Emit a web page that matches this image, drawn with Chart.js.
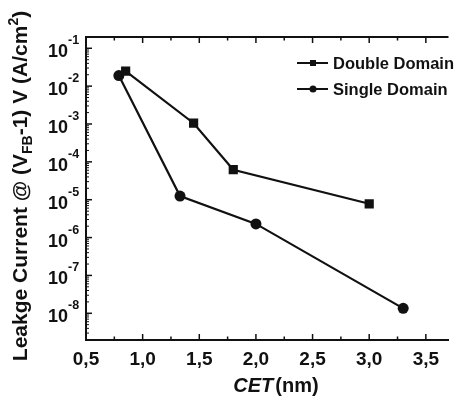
<!DOCTYPE html>
<html>
<head>
<meta charset="utf-8">
<script src="https://cdn.jsdelivr.net/npm/chart.js@4.4.0/dist/chart.umd.min.js"></script>
<style>
  body { margin: 0; background: #fff; }
</style>
</head>
<body>
<canvas id="leakChart" width="455" height="401"></canvas>
<script>
// Data
const ddX = [0.85, 1.45, 1.8, 3.0];            // Double Domain CET (nm)
const ddY = [2.5e-2, 1.05e-3, 6.2e-5, 7.8e-6];  // leakage (A/cm2)
const sdX = [0.79, 1.33, 2.0, 3.3];             // Single Domain CET (nm)
const sdY = [1.9e-2, 1.25e-5, 2.3e-6, 1.35e-8];
const xTicks = [0.5, 1.0, 1.5, 2.0, 2.5, 3.0, 3.5];
const yExps = [-1, -2, -3, -4, -5, -6, -7, -8];

const INK = "#111";
const FONT = "'Liberation Sans', Arial, sans-serif";

const toPts = (xs, ys) => xs.map((x, i) => ({ x: x, y: ys[i] }));

// frame, inward ticks, superscript labels, titles and legend
const decorPlugin = {
  id: "decor",
  afterDraw(chart) {
    const ctx = chart.ctx;
    const a = chart.chartArea;
    const xs = chart.scales.x;
    const ys = chart.scales.y;
    ctx.save();
    ctx.strokeStyle = INK;
    ctx.fillStyle = INK;

    // top frame line
    ctx.lineWidth = 2;
    ctx.beginPath();
    ctx.moveTo(a.left - 1, a.top);
    ctx.lineTo(a.right, a.top);
    ctx.stroke();

    // x ticks, bottom (up) and top (down)
    ctx.lineWidth = 1.5;
    for (let v = 0.75; v <= 3.75; v += 0.25) {
      const px = xs.getPixelForValue(v);
      if (px > a.right) break;
      const major = Math.abs(v * 2 - Math.round(v * 2)) < 1e-6;
      const len = major ? 6 : 3.5;
      ctx.beginPath();
      ctx.moveTo(px, a.bottom);
      ctx.lineTo(px, a.bottom - len);
      ctx.moveTo(px, a.top);
      ctx.lineTo(px, a.top + len);
      ctx.stroke();
    }

    // y ticks (log minor ticks), inward
    for (let e = -9; e <= -1; e++) {
      for (let m = 1; m <= 9; m++) {
        const v = m * Math.pow(10, e);
        if (v < ys.min || v > ys.max) continue;
        const py = ys.getPixelForValue(v);
        const len = m === 1 ? 6 : 3;
        ctx.lineWidth = m === 1 ? 1.5 : 1;
        ctx.beginPath();
        ctx.moveTo(a.left, py);
        ctx.lineTo(a.left + len, py);
        ctx.stroke();
      }
    }

    // y tick labels 10^n
    ctx.textBaseline = "alphabetic";
    yExps.forEach((e) => {
      const py = ys.getPixelForValue(Math.pow(10, e));
      ctx.font = "bold 18px " + FONT;
      ctx.textAlign = "right";
      ctx.fillText("10", 68, py + 9);
      ctx.font = "bold 12.5px " + FONT;
      ctx.textAlign = "left";
      ctx.fillText(String(e), 68, py - 4);
    });

    // y axis title, rotated, with subscript and superscript
    const big = "bold 21px " + FONT;
    const small = "bold 14px " + FONT;
    const parts = [
      { t: "Leakge Current @ (V", f: big, dy: 0 },
      { t: "FB", f: small, dy: 5 },
      { t: "-1) V (A/cm", f: big, dy: 0 },
      { t: "2", f: small, dy: -9 },
      { t: ")", f: big, dy: 0 },
    ];
    let total = 0;
    parts.forEach((p) => {
      ctx.font = p.f;
      p.w = ctx.measureText(p.t).width;
      total += p.w;
    });
    ctx.save();
    ctx.translate(27, 186);
    ctx.rotate(-Math.PI / 2);
    ctx.textAlign = "left";
    let cx = -total / 2;
    parts.forEach((p) => {
      ctx.font = p.f;
      ctx.fillText(p.t, cx, p.dy);
      cx += p.w;
    });
    ctx.restore();

    // x axis title
    ctx.textAlign = "left";
    ctx.font = "italic bold 20px " + FONT;
    const w1 = ctx.measureText("CET").width;
    ctx.font = "bold 20px " + FONT;
    const w2 = ctx.measureText("(nm)").width;
    let tx = 276 - (w1 + w2 + 2) / 2;
    ctx.font = "italic bold 20px " + FONT;
    ctx.fillText("CET", tx, 392);
    ctx.font = "bold 20px " + FONT;
    ctx.fillText("(nm)", tx + w1 + 2, 392);

    // legend
    const items = [
      { label: "Double Domain", y: 63, shape: "rect" },
      { label: "Single Domain", y: 89, shape: "circle" },
    ];
    items.forEach((it) => {
      ctx.lineWidth = 2;
      ctx.beginPath();
      ctx.moveTo(297, it.y);
      ctx.lineTo(328, it.y);
      ctx.stroke();
      if (it.shape === "rect") {
        ctx.fillRect(310, it.y - 3, 6, 6);
      } else {
        ctx.beginPath();
        ctx.arc(313, it.y, 3.5, 0, Math.PI * 2);
        ctx.fill();
      }
      ctx.font = "bold 16.5px " + FONT;
      ctx.fillText(it.label, 333, it.y + 6);
    });

    ctx.restore();
  },
};

new Chart(document.getElementById("leakChart").getContext("2d"), {
  type: "scatter",
  data: {
    datasets: [
      {
        label: "Double Domain",
        data: toPts(ddX, ddY),
        showLine: true,
        borderColor: INK,
        borderWidth: 2.2,
        pointStyle: "rect",
        pointRadius: 6.5,
        pointBackgroundColor: INK,
        pointBorderWidth: 0,
      },
      {
        label: "Single Domain",
        data: toPts(sdX, sdY),
        showLine: true,
        borderColor: INK,
        borderWidth: 2.2,
        pointStyle: "circle",
        pointRadius: 5.5,
        pointBackgroundColor: INK,
        pointBorderWidth: 0,
      },
    ],
  },
  options: {
    responsive: false,
    animation: false,
    layout: { padding: { top: 37, right: 0, bottom: 0, left: 0 } },
    plugins: {
      legend: { display: false },
      tooltip: { enabled: false },
    },
    scales: {
      x: {
        type: "linear",
        min: 0.5,
        max: 3.7,
        afterBuildTicks: (s) => {
          s.ticks = xTicks.map((v) => ({ value: v }));
        },
        afterFit: (s) => {
          s.height = 61;
        },
        grid: { display: false, drawTicks: false },
        border: { display: true, color: INK, width: 2 },
        ticks: {
          color: INK,
          padding: 8,
          maxRotation: 0,
          autoSkip: false,
          font: { family: FONT, size: 19, weight: "bold" },
          callback: (v) => v.toFixed(1).replace(".", ","),
        },
      },
      y: {
        type: "logarithmic",
        min: 1.97e-9,
        max: 0.1986,
        afterFit: (s) => {
          s.width = 86;
        },
        grid: { display: false, drawTicks: false },
        border: { display: true, color: INK, width: 2 },
        ticks: { display: false },
      },
    },
  },
  plugins: [decorPlugin],
});
</script>
</body>
</html>
